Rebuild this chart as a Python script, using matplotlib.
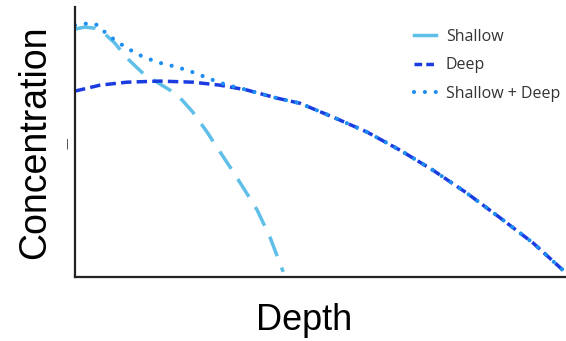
import matplotlib
matplotlib.use("Agg")
import matplotlib.pyplot as plt

# values (arbitrary units, depth 0..10, conc 0..10)
shallow_x = [0.0, 0.20, 0.41, 0.57, 0.81, 1.06, 1.36, 1.67, 1.93, 2.18, 2.40,
             2.69, 2.89, 3.16, 3.42, 3.71, 3.97, 4.24]
shallow_y = [9.19, 9.26, 9.22, 9.07, 8.67, 8.11, 7.59, 7.22, 6.93, 6.56, 6.11,
             5.37, 4.81, 4.07, 3.33, 2.48, 1.48, 0.19]

deep_x = [0.0, 0.51, 1.06, 1.73, 2.40, 2.95, 3.50, 4.11, 4.58, 5.25, 5.95,
          6.62, 7.29, 7.98, 8.66, 9.33, 10.0]
deep_y = [6.89, 7.11, 7.22, 7.26, 7.22, 7.11, 6.93, 6.63, 6.44, 5.93, 5.37,
          4.70, 3.96, 3.11, 2.19, 1.26, 0.15]

total_x = [0.0, 0.31, 0.47, 0.61, 0.81, 1.06, 1.32, 1.67, 2.08, 2.40, 2.81,
           3.10, 3.36, 4.11, 4.58, 5.25, 5.95, 6.62, 7.29, 7.98, 8.66, 9.33, 10.0]
total_y = [9.33, 9.41, 9.33, 9.07, 8.78, 8.48, 8.22, 7.96, 7.78, 7.59, 7.30,
           7.11, 7.00, 6.63, 6.44, 5.93, 5.37, 4.70, 3.96, 3.11, 2.19, 1.26, 0.15]

labels = ["Shallow", "Deep", "Shallow + Deep"]

fig = plt.figure(figsize=(5.66, 3.41), dpi=100)
ax = fig.add_axes([0.1325, 0.1877, 0.8675, 0.7913])

ax.plot(shallow_x, shallow_y, color="#5fbfe8", lw=2.5, dashes=(6, 3.5),
        label=labels[0])
ax.plot(deep_x, deep_y, color="#1a3be0", lw=2.5, dashes=(3, 1.5),
        label=labels[1])
ax.plot(total_x, total_y, color="#1e8ff0", lw=3.0, dashes=(0.01, 2.6),
        dash_capstyle="round", label=labels[2])

ax.set_xlim(0, 10)
ax.set_ylim(0, 10)
ax.set_xticks([])
ax.set_yticks([5])
ax.set_yticklabels(["|"], fontsize=7, color="#222222")
ax.tick_params(axis="y", length=0, pad=4)

for side in ["top", "right"]:
    ax.spines[side].set_visible(False)
for side in ["left", "bottom"]:
    ax.spines[side].set_linewidth(1.6)
    ax.spines[side].set_color("#222222")

fig.text(0.062, 0.582, "Concentration", rotation=90, ha="center", va="center",
         fontsize=27, family="Liberation Sans")
fig.text(0.538, 0.06, "Depth", ha="center", va="center",
         fontsize=26, family="Liberation Sans")

# legend: first handle drawn solid like the reference
leg = fig.legend(loc="upper left", bbox_to_anchor=(0.731, 0.915), frameon=False,
                 borderpad=0, borderaxespad=0, labelspacing=0.78,
                 handlelength=1.4, handletextpad=0.6,
                 prop={"family": "Open Sans", "size": 11.5})
leg.get_lines()[0].set_linestyle("-")
leg.get_lines()[1].set_dashes((2.2, 1.2))
for t in leg.get_texts():
    t.set_color("#333333")

fig.savefig("out.png", dpi=100)
